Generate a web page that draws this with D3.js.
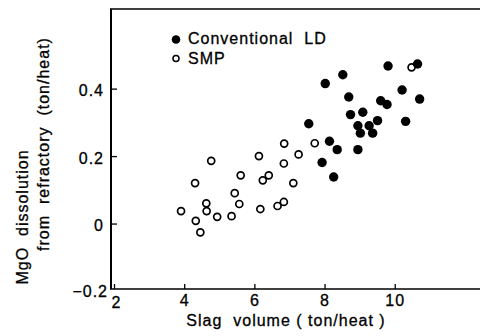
<!DOCTYPE html>
<html>
<head>
<meta charset="utf-8">
<script src="https://cdn.jsdelivr.net/npm/d3@7"></script>
<style>
  body { margin: 0; background: #fff; }
  svg { display: block; font-family: "Liberation Sans", Arial, sans-serif; }
  .lbl { font-size: 16px; letter-spacing: 1px; stroke: #000; stroke-width: 0.3px; }
</style>
</head>
<body>
<svg id="chart" width="480" height="336"></svg>
<script>
// Conventional LD (filled)
let ldX = [9.81, 10.65, 8.52, 8.02, 10.21, 8.69, 9.60, 9.78, 10.71, 9.09, 8.74, 9.51,
           10.31, 7.55, 8.95, 9.27, 9.02, 9.37, 8.14, 8.36, 8.95, 7.93, 8.26];
let ldY = [0.467, 0.473, 0.441, 0.415, 0.396, 0.375, 0.364, 0.353, 0.369, 0.330, 0.323, 0.305,
           0.303, 0.296, 0.290, 0.290, 0.268, 0.268, 0.244, 0.219, 0.219, 0.181, 0.138];
// SMP (open)
let smpX = [3.91, 4.31, 4.33, 4.46, 4.63, 4.64, 4.77, 4.94, 5.35, 5.44, 5.57, 5.61,
            6.13, 6.17, 6.24, 6.41, 6.66, 6.84, 6.84, 6.85, 7.11, 7.26, 7.72, 10.48];
let smpY = [0.037, 0.120, 0.008, -0.026, 0.060, 0.037, 0.186, 0.020, 0.022, 0.090, 0.058, 0.143,
            0.200, 0.043, 0.128, 0.143, 0.052, 0.064, 0.178, 0.237, 0.120, 0.205, 0.238, 0.463];

let xTicks = [2, 4, 6, 8, 10];
let yTicks = [-0.2, 0, 0.2, 0.4];

let svg = d3.select('#chart');

let mLeft = 111, mRight = 480, mTop = 9, mBottom = 289;

let xScale = d3.scaleLinear()
  .domain([1.914, 12.43])
  .range([mLeft, mRight]);

let yScale = d3.scaleLinear()
  .domain([-0.194, 0.636])
  .range([mBottom, mTop]);

// axes
let xAxis = d3.axisBottom(xScale)
  .tickValues(xTicks)
  .tickSize(-5)
  .tickPadding(6)
  .tickFormat(d3.format('d'));

let gx = svg.append('g')
  .attr('transform', `translate(0, ${mBottom})`)
  .call(xAxis);
gx.select('.domain').remove();
gx.selectAll('text').attr('class', 'lbl').attr('font-size', null).attr('fill', '#000')
  .attr('dx', d => d == 2 ? 2 : 0)
  .attr('y', d => d == 2 ? 8 : 6);
gx.selectAll('line').attr('stroke', '#000').attr('stroke-width', 1.3);

let yAxis = d3.axisLeft(yScale)
  .tickValues(yTicks)
  .tickSize(-6)
  .tickFormat(d => d == 0 ? '0' : (d < 0 ? '\u22120.2' : d3.format('.1f')(d)));

let gy = svg.append('g')
  .attr('transform', `translate(${mLeft}, 0)`)
  .call(yAxis);
gy.select('.domain').remove();
gy.selectAll('line').attr('stroke', '#000').attr('stroke-width', 1.3);
gy.selectAll('.tick')
  .filter(d => d < 0)
  .select('line').remove();
gy.selectAll('text')
  .attr('class', 'lbl')
  .attr('fill', '#000')
  .attr('text-anchor', 'end')
  .attr('x', d => d < 0 ? -3 : -7)
  .attr('y', d => d < 0 ? 0 : 2);

// frame lines
svg.append('line')
  .attr('x1', mLeft).attr('x2', mLeft)
  .attr('y1', mTop).attr('y2', mBottom)
  .attr('stroke', '#000').attr('stroke-width', 2);
svg.append('line')
  .attr('x1', mLeft - 1).attr('x2', mRight)
  .attr('y1', mBottom).attr('y2', mBottom)
  .attr('stroke', '#000').attr('stroke-width', 1.6);
svg.append('line')
  .attr('x1', mLeft - 1).attr('x2', mRight)
  .attr('y1', mTop).attr('y2', mTop)
  .attr('stroke', '#000').attr('stroke-width', 1.6);

// points
let smp = d3.zip(smpX, smpY);
let ld = d3.zip(ldX, ldY);

svg.append('g').selectAll('circle')
  .data(smp)
  .enter()
  .append('circle')
    .attr('cx', d => xScale(d[0]))
    .attr('cy', d => yScale(d[1]))
    .attr('r', 3.5)
    .attr('fill', 'none')
    .attr('stroke', '#000')
    .attr('stroke-width', 1.7);

svg.append('g').selectAll('circle')
  .data(ld)
  .enter()
  .append('circle')
    .attr('cx', d => xScale(d[0]))
    .attr('cy', d => yScale(d[1]))
    .attr('r', 4.7)
    .attr('fill', '#000');

// legend
let legend = svg.append('g');
legend.append('circle')
  .attr('cx', 176).attr('cy', 39.5).attr('r', 4.3).attr('fill', '#000');
legend.append('circle')
  .attr('cx', 176).attr('cy', 58.5).attr('r', 3)
  .attr('fill', 'none').attr('stroke', '#000').attr('stroke-width', 1.5);
legend.append('text')
  .attr('class', 'lbl')
  .attr('x', 188).attr('y', 44)
  .attr('xml:space', 'preserve')
  .text('Conventional  LD');
legend.append('text')
  .attr('class', 'lbl')
  .attr('x', 188).attr('y', 64)
  .text('SMP');

// axis titles
svg.append('text')
  .attr('class', 'lbl')
  .attr('x', 286).attr('y', 326)
  .attr('text-anchor', 'middle')
  .attr('xml:space', 'preserve')
  .text('Slag  volume ( ton/heat )');

svg.append('text')
  .attr('class', 'lbl')
  .attr('transform', 'translate(28, 217) rotate(-90)')
  .attr('text-anchor', 'middle')
  .attr('xml:space', 'preserve')
  .text('MgO  dissolution');

svg.append('text')
  .attr('class', 'lbl')
  .attr('transform', 'translate(49, 144) rotate(-90)')
  .attr('text-anchor', 'middle')
  .attr('xml:space', 'preserve')
  .text('from  refractory  (ton/heat)');
</script>
</body>
</html>
